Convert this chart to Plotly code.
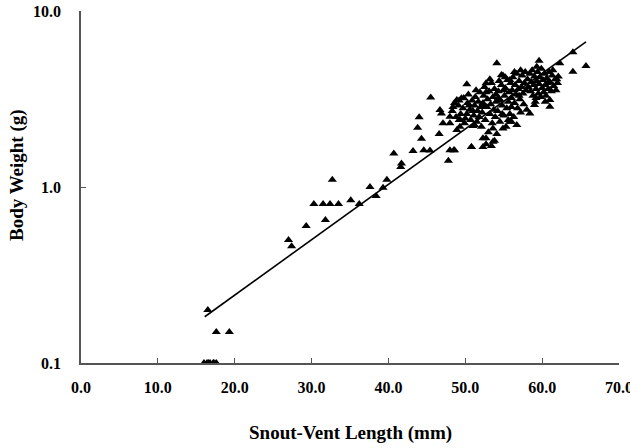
import numpy as np
import plotly.graph_objects as go

# ---- data ----
svl_low = [16.0, 16.4, 16.8, 17.2, 17.6, 17.3, 16.6, 17.6, 19.3, 16.5]
bw_low = [0.1, 0.1, 0.1, 0.1, 0.1, 0.1, 0.1, 0.15, 0.15, 0.2]

svl_mid = [27.0, 27.4, 29.3, 30.3, 31.5, 32.4, 33.5, 31.8, 32.7, 35.1, 36.2, 37.6,
           38.4, 39.3, 39.8, 40.7, 41.6, 41.7, 43.2, 44.6, 45.4, 44.0, 43.8, 44.3,
           45.5, 46.7, 46.9, 46.6, 47.1, 48.0, 48.0, 49.2, 49.3, 48.0, 48.6, 47.8,
           48.9, 50.8, 52.3, 52.7, 53.8, 53.4, 51.0, 48.9, 49.5, 50.2, 54.1]
bw_mid = [0.50, 0.46, 0.60, 0.80, 0.80, 0.80, 0.80, 0.65, 1.10, 0.84, 0.80, 1.00,
          0.89, 0.99, 1.10, 1.55, 1.30, 1.36, 1.60, 1.62, 1.61, 2.49, 2.17, 1.88,
          3.22, 2.74, 2.62, 2.00, 2.30, 2.51, 2.30, 2.40, 2.20, 1.62, 1.62, 1.41,
          2.11, 1.69, 1.89, 1.75, 1.83, 1.71, 2.22, 3.12, 3.19, 3.83, 5.05]

svl_edge = [59.6, 59.3, 62.3, 64.0, 65.7, 64.0, 62.1, 61.9, 61.0, 61.0, 60.4, 59.0,
            58.4, 56.7, 55.8, 54.9, 53.6, 52.7, 52.3, 50.8, 48.5, 51.2, 49.9, 49.3,
            54.7, 52.7, 55.8]
bw_edge = [5.22, 4.83, 5.05, 5.82, 4.87, 4.52, 4.24, 4.09, 2.86, 3.12, 3.05, 2.92,
           2.62, 2.25, 2.35, 2.15, 1.81, 1.89, 1.69, 1.69, 1.62, 2.25, 2.30, 2.42,
           4.33, 3.88, 4.06]

core_svl = [
    48.3, 48.6, 48.8, 49.1, 49.2, 49.4, 49.7, 49.8, 50.0, 48.4,
    50.2, 50.3, 50.4, 50.6, 50.7, 50.9, 51.1, 51.2, 51.3, 51.5, 51.6, 51.7, 51.9,
    51.8, 52.0, 51.4, 50.5, 51.0,
    52.1, 52.2, 52.3, 52.4, 52.5, 52.6, 52.8, 52.9, 53.0, 53.1, 53.2, 53.3, 53.4,
    53.5, 53.6, 53.7, 53.8, 53.9, 54.0, 52.7, 53.2, 52.4, 53.6, 54.0,
    54.1, 54.2, 54.3, 54.4, 54.5, 54.6, 54.7, 54.8, 54.9, 55.0, 55.1, 55.2, 55.3,
    55.4, 55.5, 55.6, 55.7, 55.8, 55.9, 56.0, 54.3, 55.0, 55.6, 54.8, 55.2, 56.0,
    56.1, 56.2, 56.3, 56.4, 56.5, 56.6, 56.7, 56.8, 56.9, 57.0, 57.1, 57.2, 57.3,
    57.4, 57.5, 57.6, 57.7, 57.8, 57.9, 58.0, 56.4, 57.2, 56.0, 57.0,
    58.1, 58.2, 58.4, 58.5, 58.6, 58.7, 58.8, 58.9, 59.0, 59.1, 59.2, 59.3, 59.4,
    59.5, 59.6, 59.7, 59.8, 59.9, 60.0, 59.2,
    60.1, 60.2, 60.3, 60.4, 60.5, 60.6, 60.8, 60.9, 61.0, 61.2, 61.3, 61.5, 61.7,
    61.8, 62.0, 60.7, 61.4,
]
core_bw = [
    2.70, 3.00, 2.50, 2.90, 3.10, 2.60, 2.80, 3.20, 2.45, 2.85,
    2.60, 3.00, 3.35, 2.75, 2.40, 3.10, 2.55, 2.90, 3.25, 2.35, 2.70, 3.05, 3.45,
    2.50, 2.85, 3.55, 2.90, 2.70,
    2.20, 2.65, 3.00, 3.30, 3.70, 2.40, 2.85, 3.15, 2.05, 3.50, 2.60, 2.95, 3.90,
    2.30, 3.25, 2.75, 3.60, 2.50, 3.05, 3.45, 4.10, 2.90, 2.15, 3.35,
    2.00, 2.70, 3.50, 4.00, 2.35, 3.10, 3.80, 2.90, 4.30, 2.55, 3.30, 3.65, 2.20,
    2.80, 4.05, 3.05, 3.45, 2.60, 3.90, 3.20, 3.20, 3.55, 2.40, 2.60, 4.20, 2.85,
    3.55, 4.20, 2.50, 3.00, 3.80, 3.35, 4.40, 2.80, 3.60, 4.00, 3.15, 2.65, 3.70,
    4.30, 3.40, 2.95, 3.90, 4.50, 3.55, 2.75, 4.50, 4.60, 2.35, 3.30,
    4.10, 3.70, 4.40, 3.50, 3.95, 4.60, 3.30, 3.80, 4.25, 3.05, 3.60, 4.00, 4.50,
    3.40, 3.85, 4.20, 3.25, 4.70, 3.65, 3.20,
    4.05, 3.45, 4.40, 3.80, 3.30, 4.15, 3.60, 4.50, 3.95, 3.50, 4.30, 3.75, 4.10,
    3.55, 3.90, 3.90, 4.60,
]

svl = svl_low + svl_mid + svl_edge + core_svl
bw = bw_low + bw_mid + bw_edge + core_bw

# exponential trendline y = A * exp(k x)
trend_A = 0.057
trend_k = 0.0725
trend_x = [16.1, 65.7]

x_ticks = [0, 10, 20, 30, 40, 50, 60, 70]
y_ticks = [0.1, 1, 10]
y_ticktext = ["0.1", "1.0", "10.0"]

x_title = "Snout-Vent Length (mm)"
y_title = "Body Weight (g)"

# ---- figure ----
tx = np.linspace(trend_x[0], trend_x[1], 50)
ty = trend_A * np.exp(trend_k * tx)

fig = go.Figure()
fig.add_trace(go.Scatter(
    x=svl, y=bw, mode="markers",
    marker=dict(symbol="triangle-up", size=8, color="black"),
    cliponaxis=False, showlegend=False,
))
fig.add_trace(go.Scatter(
    x=tx, y=ty, mode="lines",
    line=dict(color="black", width=1.6),
    showlegend=False,
))

font_family = "Liberation Serif"
fig.update_layout(
    width=630, height=448,
    margin=dict(l=81, r=11, t=11, b=85),
    paper_bgcolor="white", plot_bgcolor="white",
    font=dict(family=font_family, color="black"),
)
fig.update_xaxes(
    range=[0, 70], tickvals=x_ticks, ticktext=[f"{v:.1f}" for v in x_ticks],
    showgrid=False, zeroline=False, automargin=False,
    showline=True, linecolor="#555555", linewidth=1.5,
    ticks="inside", ticklen=5, tickcolor="#555555", tickwidth=1.2,
    tickfont=dict(family=font_family, size=16, color="black", weight="bold"),
    ticklabelstandoff=9, ticklabeloverflow="allow",
)
fig.update_yaxes(
    type="log", range=[-1, 1], tickvals=y_ticks, ticktext=y_ticktext,
    showgrid=False, zeroline=False, automargin=False,
    showline=True, linecolor="#555555", linewidth=1.5,
    ticks="inside", ticklen=5, tickcolor="#555555", tickwidth=1.2,
    tickfont=dict(family=font_family, size=16, color="black", weight="bold"),
    ticklabelstandoff=15, ticklabeloverflow="allow",
)
fig.add_annotation(
    text=f"<b>{x_title}</b>", xref="paper", yref="paper",
    x=0.5, y=-0.199, xanchor="center", yanchor="middle", showarrow=False,
    font=dict(family=font_family, size=19, color="black"),
)
fig.add_annotation(
    text=f"<b>{y_title}</b>", xref="paper", yref="paper", textangle=-90,
    x=-0.119, y=0.534, xanchor="center", yanchor="middle", showarrow=False,
    font=dict(family=font_family, size=19, color="black"),
)

fig.write_html("out.html")
